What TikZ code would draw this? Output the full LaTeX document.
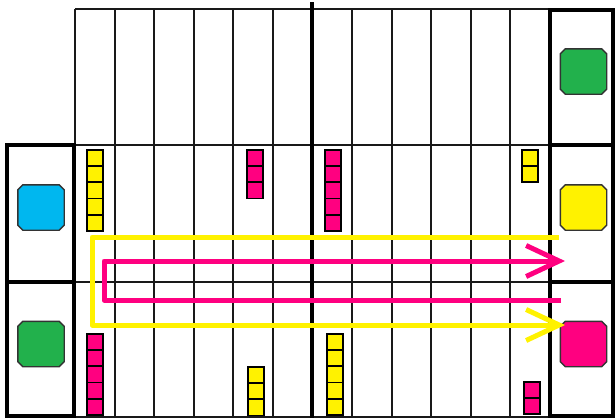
\documentclass[tikz,border=0pt]{standalone}
\usetikzlibrary{arrows.meta,calc}
\definecolor{pyellow}{HTML}{FFF200}
\definecolor{pmag}{HTML}{FF0080}
\definecolor{pblue}{HTML}{00B7EF}
\definecolor{pgreen}{HTML}{22B14C}
\tikzset{
  gridline/.style={draw=black!90,line width=2pt},
  thickline/.style={draw=black,line width=3.8pt},
  boxcell/.style={rectangle,draw=black,line width=3.6pt,inner sep=0pt},
  cell/.style={rectangle,draw=black,line width=1.8pt,minimum width=16pt,minimum height=16.2pt,inner sep=0pt,anchor=north west},
  tokenbox/.style={rectangle,minimum width=46pt,minimum height=45pt,inner sep=0pt},
  tokenline/.style={draw=black!80,line width=1.4pt,line join=miter},
  route/.style={line width=5pt,line join=round,-{Straight Barb[length=33pt,width=31pt]}},
}
\newcommand{\mystack}[5]{%
  \foreach \k in {1,...,#4}{%
    \node[cell,fill=#5] (#1-\k) at (#2,{#3+(\k-1)*16.2}) {};
  }%
}
\newcommand{\mytoken}[4]{%
  \node[tokenbox] (#1) at (#2,#3) {};
  \filldraw[tokenline,fill=#4]
    ($(#1.north west)+(5,0)$) -- ($(#1.north east)+(-5,0)$) -- ($(#1.north east)+(0,5)$)
    -- ($(#1.south east)+(0,-5)$) -- ($(#1.south east)+(-5,0)$) -- ($(#1.south west)+(5,0)$)
    -- ($(#1.south west)+(0,-5)$) -- ($(#1.north west)+(0,5)$) -- cycle;
}
\begin{document}
\begin{tikzpicture}[x=1pt,y=-1pt]
\useasboundingbox (0,0) rectangle (615,418);
% grid lines
\foreach \i in {0,...,12}{
  \draw[gridline] ({75+\i*39.583},9) -- ({75+\i*39.583},416.5);
}
\foreach \yy in {9,145,282,416.5}{
  \draw[gridline] (75,\yy) -- (550,\yy);
}
\coordinate (ctop) at (312,2);
\coordinate (cbot) at (312,418);
\draw[thickline] (ctop) -- (cbot);
% side boxes
\node[boxcell,minimum width=67pt,minimum height=137pt] (lefttop) at (40.5,213.5) {};
\node[boxcell,minimum width=67pt,minimum height=134pt] (leftbot) at (40.5,349) {};
\node[boxcell,minimum width=63pt,minimum height=135pt] (righttop) at (581.5,77.5) {};
\node[boxcell,minimum width=63pt,minimum height=137pt] (rightmid) at (581.5,213.5) {};
\node[boxcell,minimum width=63pt,minimum height=134pt] (rightbot) at (581.5,349) {};
% tokens
\mytoken{blue}{41}{207.5}{pblue}
\mytoken{lgreen}{41}{344}{pgreen}
\mytoken{rgreen}{583.5}{71.5}{pgreen}
\mytoken{ryellow}{583.5}{207.5}{pyellow}
\mytoken{rmag}{583.5}{344}{pmag}
% stacks
\mystack{ya}{86}{149}{5}{pyellow}
\mystack{ma}{246}{149}{3}{pmag}
\mystack{mb}{324}{149}{5}{pmag}
\mystack{yb}{521}{149}{2}{pyellow}
\mystack{mc}{86}{333}{5}{pmag}
\mystack{yc}{247}{366}{3}{pyellow}
\mystack{yd}{326}{333}{5}{pyellow}
\mystack{md}{523}{381}{2}{pmag}
% routes
\coordinate (ys) at (559,237);
\coordinate (y1) at (92,237);
\coordinate (y2) at (92,325);
\coordinate (ye) at (565,325);
\coordinate (ms) at (561,300);
\coordinate (m1) at (104,300);
\coordinate (m2) at (104,261);
\coordinate (me) at (565,261);
\draw[route,draw=pyellow] (ys) -- (y1) -- (y2) -- (ye);
\draw[route,draw=pmag] (ms) -- (m1) -- (m2) -- (me);
\end{tikzpicture}
\end{document}
